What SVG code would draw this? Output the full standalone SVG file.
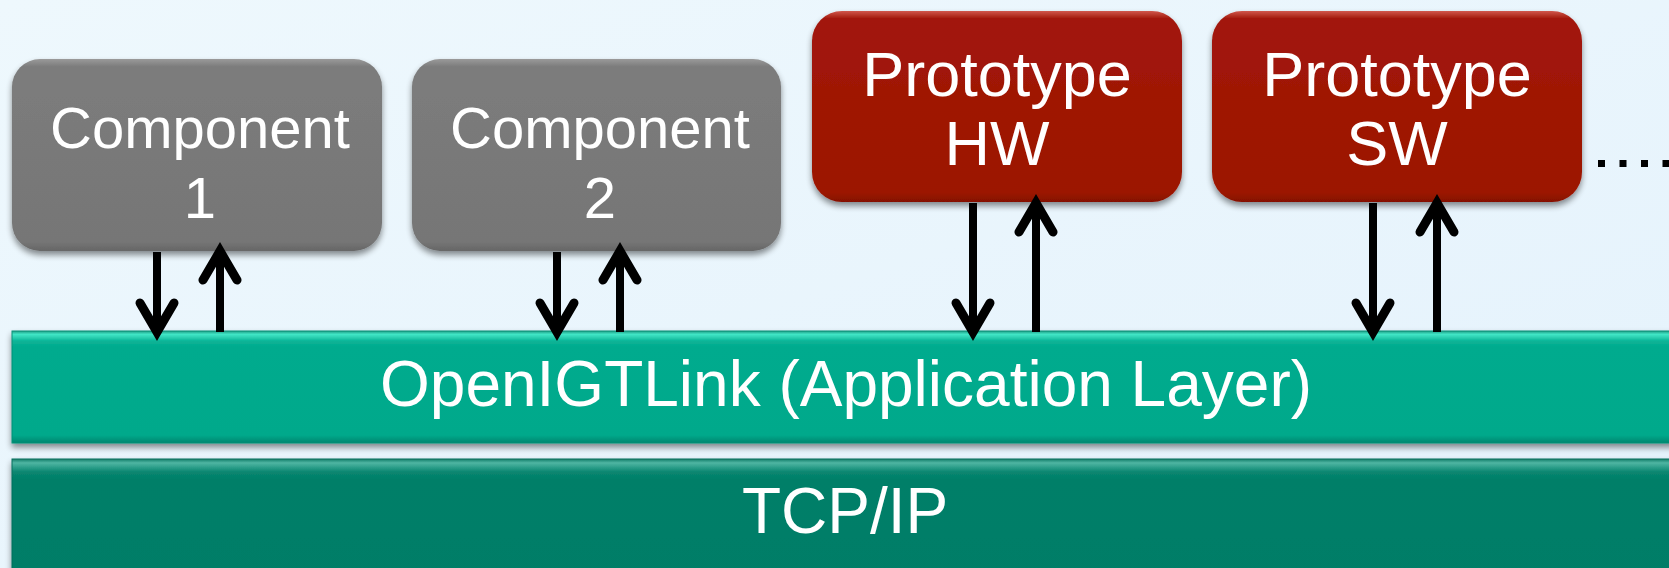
<svg xmlns="http://www.w3.org/2000/svg" width="1669" height="568" viewBox="0 0 1669 568">
  <defs>
    <linearGradient id="bg" x1="0" y1="0" x2="1" y2="1">
      <stop offset="0" stop-color="#eef8fd"/>
      <stop offset="1" stop-color="#e4f2fc"/>
    </linearGradient>
    <linearGradient id="grayFill" x1="0" y1="0" x2="0" y2="1">
      <stop offset="0" stop-color="#9a9a9a"/>
      <stop offset="0.04" stop-color="#7c7c7c"/>
      <stop offset="0.95" stop-color="#767676"/>
      <stop offset="1" stop-color="#666666"/>
    </linearGradient>
    <linearGradient id="redFill" x1="0" y1="0" x2="0" y2="1">
      <stop offset="0" stop-color="#d0574c"/>
      <stop offset="0.04" stop-color="#a2180a"/>
      <stop offset="0.95" stop-color="#9c1400"/>
      <stop offset="1" stop-color="#841100"/>
    </linearGradient>
    <linearGradient id="tealFill" x1="0" y1="0" x2="0" y2="1">
      <stop offset="0" stop-color="#1f9e86"/>
      <stop offset="0.03" stop-color="#42e6c6"/>
      <stop offset="0.09" stop-color="#0cb497"/>
      <stop offset="0.14" stop-color="#00ab8e"/>
      <stop offset="0.93" stop-color="#00a98b"/>
      <stop offset="1" stop-color="#00866f"/>
    </linearGradient>
    <linearGradient id="darkFill" x1="0" y1="0" x2="0" y2="1">
      <stop offset="0" stop-color="#137e6a"/>
      <stop offset="0.03" stop-color="#4fb5a2"/>
      <stop offset="0.1" stop-color="#0a8670"/>
      <stop offset="0.16" stop-color="#007f68"/>
      <stop offset="1" stop-color="#007d66"/>
    </linearGradient>
    <filter id="shadow" x="-10%" y="-10%" width="120%" height="130%">
      <feGaussianBlur in="SourceAlpha" stdDeviation="3"/>
      <feOffset dx="0" dy="4" result="b"/>
      <feComponentTransfer><feFuncA type="linear" slope="0.45"/></feComponentTransfer>
      <feMerge><feMergeNode/><feMergeNode in="SourceGraphic"/></feMerge>
    </filter>
  </defs>
  <style>
    .label { font-family: "Liberation Sans", Arial, sans-serif; fill: #ffffff; text-anchor: middle; }
    .comp { font-size: 58px; }
    .proto { font-size: 63px; }
    .layer { font-size: 64px; }
    .arrow { stroke: #000; stroke-width: 8; fill: none; stroke-linejoin: miter; stroke-miterlimit: 10; }
    .arrow-head { stroke-width: 9; stroke-linecap: round; }
  </style>

  <rect width="1669" height="568" fill="url(#bg)"/>

  <!-- protocol stack layers -->
  <g id="layer-tcpip" filter="url(#shadow)">
    <rect x="12" y="459" width="1680" height="130" fill="url(#darkFill)" stroke="#0b6e5c" stroke-width="1"/>
    <text class="label layer" x="845" y="533">TCP/IP</text>
  </g>
  <g id="layer-openigtlink" filter="url(#shadow)">
    <rect x="12" y="331" width="1680" height="112" fill="url(#tealFill)" stroke="#0c9077" stroke-width="1"/>
    <text class="label layer" x="846" y="406">OpenIGTLink (Application Layer)</text>
  </g>

  <!-- endpoints -->
  <g id="component-1" filter="url(#shadow)">
    <rect x="12" y="59" width="370" height="192" rx="28" fill="url(#grayFill)"/>
    <text class="label comp" x="200" y="148">Component</text>
    <text class="label comp" x="200" y="218">1</text>
  </g>
  <g id="component-2" filter="url(#shadow)">
    <rect x="412" y="59" width="369" height="192" rx="28" fill="url(#grayFill)"/>
    <text class="label comp" x="600" y="148">Component</text>
    <text class="label comp" x="600" y="218">2</text>
  </g>
  <g id="prototype-hw" filter="url(#shadow)">
    <rect x="812" y="11" width="370" height="191" rx="30" fill="url(#redFill)"/>
    <text class="label proto" x="997" y="96">Prototype</text>
    <text class="label proto" x="997" y="165">HW</text>
  </g>
  <g id="prototype-sw" filter="url(#shadow)">
    <rect x="1212" y="11" width="370" height="191" rx="30" fill="url(#redFill)"/>
    <text class="label proto" x="1397" y="96">Prototype</text>
    <text class="label proto" x="1397" y="165">SW</text>
  </g>

  <!-- more endpoints follow -->
  <g id="ellipsis">
    <line x1="1598" y1="163.5" x2="1669" y2="163.5" stroke="#000" stroke-width="7" stroke-dasharray="7 14.5"/>
  </g>

  <!-- message flow between endpoints and the application layer: shaft, then open head -->
  <g id="connectors">
    <path class="arrow" d="M157 252 V331"/>
    <path class="arrow arrow-head" d="M140 303 L157 332 L174 303"/>
    <path class="arrow" d="M220 332 V252"/>
    <path class="arrow arrow-head" d="M203 280 L220 251 L237 280"/>

    <path class="arrow" d="M557 252 V331"/>
    <path class="arrow arrow-head" d="M540 303 L557 332 L574 303"/>
    <path class="arrow" d="M620 332 V252"/>
    <path class="arrow arrow-head" d="M603 280 L620 251 L637 280"/>

    <path class="arrow" d="M973 203 V331"/>
    <path class="arrow arrow-head" d="M956 303 L973 332 L990 303"/>
    <path class="arrow" d="M1036 332 V204"/>
    <path class="arrow arrow-head" d="M1019 232 L1036 203 L1053 232"/>

    <path class="arrow" d="M1373 203 V331"/>
    <path class="arrow arrow-head" d="M1356 303 L1373 332 L1390 303"/>
    <path class="arrow" d="M1437 332 V204"/>
    <path class="arrow arrow-head" d="M1420 232 L1437 203 L1454 232"/>
  </g>
</svg>
